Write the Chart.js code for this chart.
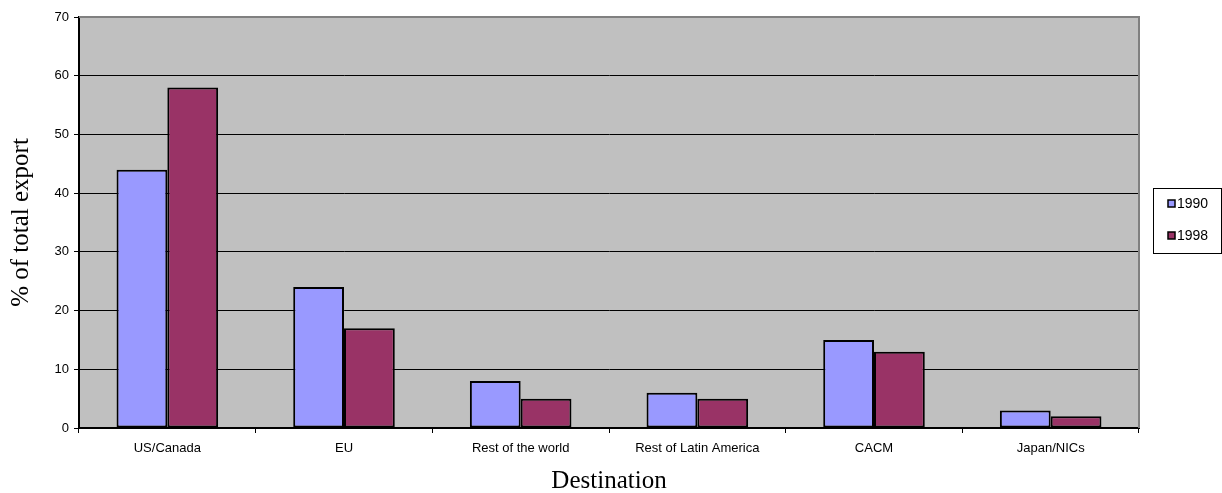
<!DOCTYPE html>
<html>
<head>
<meta charset="utf-8">
<script src="https://cdn.jsdelivr.net/npm/chart.js@4/dist/chart.umd.min.js"></script>
<style>
  html, body { margin: 0; padding: 0; background: #fff; }
  #wrap { width: 1222px; height: 493px; position: relative; }
</style>
</head>
<body>
<div id="wrap"><canvas id="c" width="1222" height="493"></canvas></div>
<script>
// Export shares by destination, in percent of total exports
const destinations = ['US/Canada', 'EU', 'Rest of the world', 'Rest of Latin America', 'CACM', 'Japan/NICs'];
const share1990 = [44, 24, 8, 6, 15, 3];
const share1998 = [58, 17, 5, 5, 13, 2];
const seriesNames = ['1990', '1998'];
const yTicks = [0, 10, 20, 30, 40, 50, 60, 70];

const colors = ['#9999FF', '#993366'];
const sans = '"Liberation Sans", Arial, sans-serif';
const serif = '"Liberation Serif", "Times New Roman", serif';

// Grey plot background, grey top/right frame and a boxed legend at the right
const framePlugin = {
  id: 'frame',
  beforeDraw(chart) {
    const { ctx, chartArea: a } = chart;
    ctx.save();
    ctx.fillStyle = '#C0C0C0';
    ctx.fillRect(a.left, a.top, a.right - a.left, a.bottom - a.top);
    ctx.restore();
  },
  afterDatasetsDraw(chart) {
    const { ctx, chartArea: a } = chart;
    ctx.save();
    ctx.strokeStyle = '#808080';
    ctx.lineWidth = 2;
    ctx.beginPath();
    ctx.moveTo(a.left, a.top);
    ctx.lineTo(a.right, a.top);
    ctx.lineTo(a.right, a.bottom);
    ctx.stroke();
    ctx.restore();
  },
  afterDraw(chart) {
    const { ctx } = chart;
    const bx = 1153.5, by = 188.5, bw = 68, bh = 65;
    ctx.save();
    ctx.fillStyle = '#fff';
    ctx.fillRect(bx, by, bw, bh);
    ctx.strokeStyle = '#000';
    ctx.lineWidth = 1;
    ctx.strokeRect(bx, by, bw, bh);
    ctx.font = '14px ' + sans;
    ctx.textBaseline = 'middle';
    chart.data.datasets.forEach((ds, i) => {
      const cy = 204 + i * 32;
      ctx.fillStyle = ds.backgroundColor;
      ctx.fillRect(1168, cy - 4, 7, 7);
      ctx.strokeStyle = '#000';
      ctx.lineWidth = 1.5;
      ctx.strokeRect(1168, cy - 4, 7, 7);
      ctx.fillStyle = '#000';
      ctx.fillText(ds.label, 1177, cy + 0.5);
    });
    ctx.restore();
  }
};

new Chart(document.getElementById('c'), {
  type: 'bar',
  data: {
    labels: destinations,
    datasets: [
      { label: seriesNames[0], data: share1990, backgroundColor: colors[0], borderColor: '#000', borderWidth: 2, borderSkipped: false },
      { label: seriesNames[1], data: share1998, backgroundColor: colors[1], borderColor: '#000', borderWidth: 2, borderSkipped: false }
    ]
  },
  options: {
    responsive: false,
    animation: false,
    devicePixelRatio: 1,
    layout: { padding: { top: 17, right: 83, bottom: 0, left: 0 } },
    datasets: { bar: { categoryPercentage: 0.575, barPercentage: 1.0 } },
    plugins: {
      legend: { display: false },
      tooltip: { enabled: false }
    },
    scales: {
      x: {
        afterFit(s) { s.height = 65; },
        grid: { offset: true, drawOnChartArea: false, color: '#000', tickLength: 5, lineWidth: 1 },
        border: { color: '#000', width: 2 },
        ticks: { color: '#000', font: { family: sans, size: 13 }, padding: 8, maxRotation: 0 },
        title: { display: true, text: 'Destination', color: '#000', font: { family: serif, size: 25 }, padding: { top: 13, bottom: -3 } }
      },
      y: {
        min: 0, max: 70,
        afterFit(s) { s.width = 79; },
        afterBuildTicks(s) { s.ticks = yTicks.map(v => ({ value: v })); },
        grid: {
          color: ctx => (ctx.tick && ctx.tick.value === 70 ? '#808080' : '#000'),
          tickColor: '#000',
          tickLength: 5,
          lineWidth: 1
        },
        border: { color: '#000', width: 2 },
        ticks: { color: '#000', font: { family: sans, size: 13 }, padding: 5 },
        title: { display: true, text: '% of total export', color: '#000', font: { family: serif, size: 25 }, padding: { top: 6, bottom: 6 } }
      }
    }
  },
  plugins: [framePlugin]
});
</script>
</body>
</html>
